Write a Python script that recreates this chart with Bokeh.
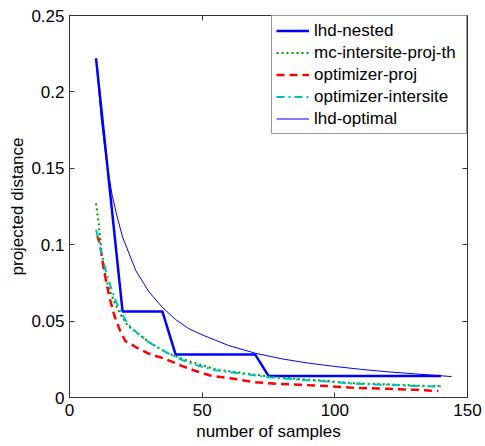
from bokeh.plotting import figure
from bokeh.models import (Range1d, FixedTicker, LinearAxis, CustomJSTickFormatter,
                          Legend, LegendItem)
from bokeh.embed import file_html
from bokeh.resources import INLINE

# ---- data ----
nested_x = [10, 20, 35, 40, 70, 75, 140]
nested_y = [0.222, 0.0563, 0.0563, 0.0281, 0.0281, 0.0141, 0.0141]

mc_x = [10, 11, 12, 13, 14, 15, 17, 19, 22, 26, 31, 37, 46, 55, 65, 75, 87, 97, 107, 120, 130, 140]
mc_y = [0.127, 0.114, 0.097, 0.085, 0.076, 0.071, 0.062, 0.055, 0.047, 0.0415, 0.035, 0.029,
        0.0232, 0.0185, 0.016, 0.0138, 0.012, 0.0108, 0.0094, 0.0086, 0.0078, 0.0074]

proj_x = [10.5, 11.5, 13, 15, 17, 19, 21, 25, 30, 36, 42, 47, 53, 62, 70, 78, 87, 97, 107, 120, 131, 139]
proj_y = [0.106, 0.100, 0.083, 0.066, 0.053, 0.044, 0.037, 0.033, 0.0286, 0.0253, 0.0209, 0.0177,
          0.0144, 0.0122, 0.0100, 0.0090, 0.0083, 0.0075, 0.0063, 0.0057, 0.0050, 0.0042]

inter_x = [10, 11, 12, 13, 14, 16, 18, 20, 22, 25, 30, 37, 45, 55, 65, 75, 87, 97, 107, 120, 130, 140]
inter_y = [0.110, 0.103, 0.095, 0.088, 0.081, 0.070, 0.061, 0.054, 0.048, 0.043, 0.036, 0.029,
           0.0225, 0.0178, 0.0155, 0.0133, 0.0116, 0.0105, 0.009, 0.0083, 0.0075, 0.0072]

opt_x = [10, 12, 14, 16, 18, 20, 25, 30, 35, 40, 45, 50, 60, 70, 80, 90, 100, 110, 120, 130, 144]
opt_y = [0.222, 0.182, 0.154, 0.133, 0.118, 0.105, 0.083, 0.069, 0.059, 0.051, 0.045, 0.041,
         0.034, 0.029, 0.0253, 0.0225, 0.0203, 0.0184, 0.0168, 0.0155, 0.0137]

x_ticks = [0, 50, 100, 150]
y_ticks = [0, 0.05, 0.1, 0.15, 0.2, 0.25]

FONT = "Liberation Sans"
FS = "17px"

p = figure(width=485, height=446, output_backend="svg", toolbar_location=None,
           x_range=Range1d(0, 150), y_range=Range1d(0, 0.25),
           min_border_left=69, min_border_right=18, min_border_top=15, min_border_bottom=49)
p.grid.visible = False
p.background_fill_color = "white"
p.outline_line_color = "#333333"
p.outline_line_width = 1

fmt = CustomJSTickFormatter(code="return String(Math.round(tick*100)/100);")
blank = CustomJSTickFormatter(code="return '';")

def style_axis(ax, ticks, labels=True):
    ax.ticker = FixedTicker(ticks=ticks)
    ax.major_tick_in = 5
    ax.major_tick_out = 0
    ax.minor_tick_line_color = None
    ax.axis_line_color = "#333333"
    ax.major_tick_line_color = "#333333"
    ax.major_label_text_font = FONT
    ax.major_label_text_color = "black"
    ax.major_label_text_font_size = FS
    ax.axis_label_text_font = FONT
    ax.axis_label_text_font_style = "normal"
    ax.axis_label_text_font_size = FS
    ax.axis_label_text_color = "black"
    if labels:
        ax.formatter = fmt
    else:
        ax.formatter = blank
        ax.major_label_standoff = 0

style_axis(p.xaxis[0], x_ticks)
style_axis(p.yaxis[0], y_ticks)
p.xaxis[0].axis_label = "number of samples"
p.yaxis[0].axis_label = "projected distance"
p.xaxis[0].major_label_standoff = 6
p.xaxis[0].axis_label_standoff = 3
p.yaxis[0].major_label_standoff = 5
p.yaxis[0].axis_label_standoff = 1

top = LinearAxis()
style_axis(top, x_ticks, labels=False)
p.add_layout(top, "above")
right = LinearAxis()
style_axis(right, y_ticks, labels=False)
p.add_layout(right, "right")

r1 = p.line(nested_x, nested_y, line_color="#0000ff", line_width=2.5)
r2 = p.line(mc_x, mc_y, line_color="#009a00", line_width=2, line_dash="2 3")
r3 = p.line(proj_x, proj_y, line_color="#ff0000", line_width=2.5, line_dash="8 5")
r4 = p.line(inter_x, inter_y, line_color="#00bfbf", line_width=2, line_dash="8 4 2 4")
r5 = p.line(opt_x, opt_y, line_color="#0000ff", line_width=1)

legend = Legend(items=[
    LegendItem(label="lhd-nested", renderers=[r1]),
    LegendItem(label="mc-intersite-proj-th", renderers=[r2]),
    LegendItem(label="optimizer-proj", renderers=[r3]),
    LegendItem(label="optimizer-intersite", renderers=[r4]),
    LegendItem(label="lhd-optimal", renderers=[r5]),
], location="top_right")
legend.margin = 0
legend.padding = 4
legend.spacing = 1
legend.glyph_width = 33
legend.glyph_height = 21
legend.label_height = 21
legend.label_width = 148
legend.label_standoff = 5
legend.label_text_font = FONT
legend.label_text_font_size = FS
legend.label_text_color = "black"
legend.border_line_color = "#333333"
legend.border_line_width = 1
legend.background_fill_color = "white"
legend.background_fill_alpha = 1
p.add_layout(legend, "center")

open("out.html", "w").write(file_html(p, INLINE))
